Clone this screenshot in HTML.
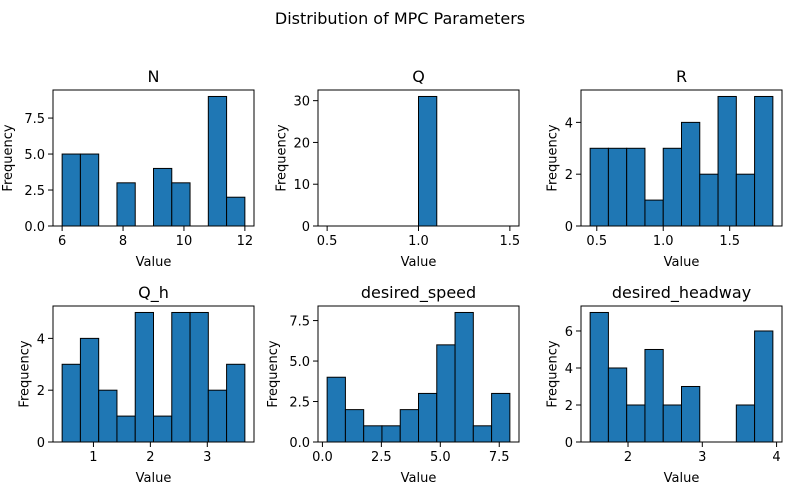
<!DOCTYPE html>
<html><head><meta charset="utf-8"><style>
body{margin:0;background:#fff;}
svg{display:block;font-family:"DejaVu Sans","Liberation Sans",sans-serif;}
</style></head><body>
<svg id="fig" width="800" height="500">
<text x="400" y="24" text-anchor="middle" font-size="16">Distribution of MPC Parameters</text>
</svg>
<script>
const titles = ["N","Q","R","Q_h","desired_speed","desired_headway"];
const binStarts = [6, 0.5, 0.45, 0.45, 0.2, 1.49];
const binEnds = [12, 1.5, 1.825, 3.66, 7.95, 3.95];
const countsN = [5,5,0,3,0,4,3,0,9,2];
const countsQ = [0,0,0,0,0,31,0,0,0,0];
const countsR = [3,3,3,1,3,4,2,5,2,5];
const countsQh = [3,4,2,1,5,1,5,5,2,3];
const countsSpeed = [4,2,1,1,2,3,6,8,1,3];
const countsHeadway = [7,4,2,5,2,3,0,0,2,6];
const xTicks = [[6,8,10,12],[0.5,1.0,1.5],[0.5,1.0,1.5],[1,2,3],[0,2.5,5,7.5],[2,3,4]];
const xTickLabels = [["6","8","10","12"],["0.5","1.0","1.5"],["0.5","1.0","1.5"],["1","2","3"],["0.0","2.5","5.0","7.5"],["2","3","4"]];
const yTicks = [[0,2.5,5,7.5],[0,10,20,30],[0,2,4],[0,2,4],[0,2.5,5,7.5],[0,2,4,6]];
const yTickLabels = [["0.0","2.5","5.0","7.5"],["0","10","20","30"],["0","2","4"],["0","2","4"],["0.0","2.5","5.0","7.5"],["0","2","4","6"]];
const allCounts = [countsN,countsQ,countsR,countsQh,countsSpeed,countsHeadway];

const NS="http://www.w3.org/2000/svg";
const svg=document.getElementById('fig');
function mk(tag,attrs,parent){const e=document.createElementNS(NS,tag);for(const k in attrs)e.setAttribute(k,attrs[k]);(parent||svg).appendChild(e);return e;}
const lefts=[53,318,581], tops=[90,306], W=201, H=136;
for(let i=0;i<6;i++){
  const L=lefts[i%3], T=tops[Math.floor(i/3)];
  const counts=allCounts[i];
  const lo=binStarts[i], hi=binEnds[i], span=hi-lo;
  const xmin=lo-0.05*span, xmax=hi+0.05*span;
  const ymax=Math.max(...counts)*1.05;
  const xs=v=>L+(v-xmin)/(xmax-xmin)*W;
  const ys=v=>T+H-(v/ymax)*H;
  const g=mk('g',{});
  
  
  const bw=span/counts.length;
  counts.forEach((c,j)=>{
    if(c<=0)return;
    const x0=xs(lo+j*bw), x1=xs(lo+(j+1)*bw);
    const r=mk('rect',{x:x0,y:ys(c),width:x1-x0,height:ys(0)-ys(c),fill:'#1f77b4',stroke:'#000','stroke-width':1},g);
    
    
  });
  const fr=mk('rect',{x:L,y:T,width:W,height:H,fill:'none',stroke:'#000','stroke-width':1},g);
  
  
  xTicks[i].forEach((v,k)=>{
    const x=xs(v);
    mk('line',{x1:x,x2:x,y1:T+H,y2:T+H+5,stroke:'#000'},g);
    const t=mk('text',{x:x,y:T+H+19,'text-anchor':'middle','font-size':13},g);
    t.textContent=xTickLabels[i][k];
    
    
  });
  yTicks[i].forEach((v,k)=>{
    const y=ys(v);
    mk('line',{x1:L-5,x2:L,y1:y,y2:y,stroke:'#000'},g);
    const t=mk('text',{x:L-8,y:y+5,'text-anchor':'end','font-size':13},g);
    t.textContent=yTickLabels[i][k];
    
    
  });
  const yw=Math.max(...yTickLabels[i].map(s=>s.length))*8.3;
  const xl=mk('text',{x:L+W/2,y:T+H+40,'text-anchor':'middle','font-size':13},g);
  xl.textContent='Value';
  
  
  const yx=L-yw-16;
  const yl=mk('text',{x:yx,y:T+H/2,'text-anchor':'middle','font-size':13,transform:`rotate(-90 ${yx} ${T+H/2})`},g);
  yl.textContent='Frequency';
  
  
  const tt=mk('text',{x:L+W/2,y:T-8,'text-anchor':'middle','font-size':16},g);
  tt.textContent=titles[i];
  
  
}
</script>
</body></html>
